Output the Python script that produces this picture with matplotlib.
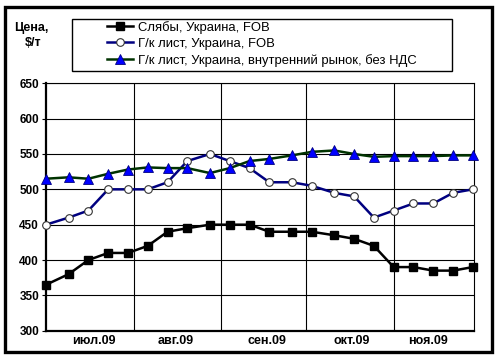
import matplotlib
matplotlib.use("Agg")
import matplotlib.pyplot as plt
import pandas as pd
from matplotlib.patches import Rectangle
from matplotlib.lines import Line2D

plt.rcParams["font.family"] = ["Liberation Sans", "DejaVu Sans"]

# -------------------------------------------------
# Data (weekly quotes, 2009)
# -------------------------------------------------
dates = pd.to_datetime([
    "2009-07-01", "2009-07-09", "2009-07-16", "2009-07-23", "2009-07-30",
    "2009-08-06", "2009-08-13", "2009-08-20", "2009-08-28", "2009-09-04",
    "2009-09-11", "2009-09-18", "2009-09-26", "2009-10-03", "2009-10-11",
    "2009-10-18", "2009-10-25", "2009-11-01", "2009-11-08", "2009-11-15",
    "2009-11-22", "2009-11-29",
])
slabs = [365, 380, 400, 410, 410, 420, 440, 445, 450, 450, 450,
         440, 440, 440, 435, 430, 420, 390, 390, 385, 385, 390]
hrc_fob = [450, 460, 470, 500, 500, 500, 510, 540, 550, 540, 530,
           510, 510, 505, 495, 490, 460, 470, 480, 480, 495, 500]
hrc_domestic = [515, 517, 515, 522, 528, 531, 530, 530, 523, 530, 540,
                543, 548, 553, 555, 550, 546, 547, 547, 547, 548, 548]

series_labels = [
    "Слябы, Украина, FOB",
    "Г/к лист, Украина, FOB",
    "Г/к лист, Украина, внутренний рынок, без НДС",
]
month_labels = ["июл.09", "авг.09", "сен.09", "окт.09", "ноя.09"]
label_dates = pd.to_datetime(["2009-07-18", "2009-08-16", "2009-09-17",
                              "2009-10-17", "2009-11-13"])
month_bounds = pd.to_datetime(["2009-08-01", "2009-09-01", "2009-10-01",
                               "2009-11-01"])
y_ticks = [300, 350, 400, 450, 500, 550, 600, 650]

# -------------------------------------------------
# Figure
# -------------------------------------------------
W, H = 500, 362
fig = plt.figure(figsize=(5.0, 3.62), dpi=100)
ax = fig.add_axes([46 / W, 1 - 330.7 / H, (474 - 46) / W, (330.7 - 83.3) / H])

ax.plot(dates, slabs, color="black", lw=1.8, marker="s", ms=6,
        mfc="black", mec="black", clip_on=False, zorder=3)
ax.plot(dates, hrc_fob, color="#000080", lw=1.8, marker="o", ms=5.5,
        mfc="white", mec="#333333", mew=0.8, clip_on=False, zorder=4)
ax.plot(dates, hrc_domestic, color="#003300", lw=1.8, marker="^", ms=7,
        mfc="#0000ff", mec="#000080", mew=0.6, clip_on=False, zorder=5)

ax.set_xlim(pd.Timestamp("2009-07-01"), pd.Timestamp("2009-11-29 10:00"))
ax.set_ylim(300, 650)
ax.set_yticks(y_ticks)
ax.set_yticklabels([str(v) for v in y_ticks], fontsize=8.5, fontweight="bold")

ax.set_xticks(month_bounds)
ax.set_xticklabels([])
ax.set_xticks(label_dates, minor=True)
ax.set_xticklabels(month_labels, minor=True, fontsize=9, fontweight="bold")
ax.tick_params(axis="x", which="both", length=0, pad=3)
ax.tick_params(axis="y", length=3, width=0.8, pad=2)

ax.grid(True, which="major", color="black", lw=0.8)
ax.set_axisbelow(True)
for side in ["top", "right"]:
    ax.spines[side].set_linewidth(0.8)
for side in ["left", "bottom"]:
    ax.spines[side].set_linewidth(1.6)

# -------------------------------------------------
# Legend box + legend
# -------------------------------------------------
fig.patches.append(Rectangle((71.7 / W, 1 - 70.7 / H), (451.7 - 71.7) / W,
                             (70.7 - 19) / H, transform=fig.transFigure,
                             fill=False, ec="black", lw=1.0))
handles = [
    Line2D([], [], color="black", lw=1.8, marker="s", ms=6),
    Line2D([], [], color="#000080", lw=1.8, marker="o", ms=5.5,
           mfc="white", mec="#333333", mew=0.8),
    Line2D([], [], color="#003300", lw=1.8, marker="^", ms=7,
           mfc="#0000ff", mec="#000080", mew=0.6),
]
fig.legend(handles, series_labels, loc="upper left",
           bbox_to_anchor=(107 / W, 1 - 21 / H), frameon=False,
           fontsize=9.4, handlelength=2.0, handletextpad=0.4,
           labelspacing=0.3, borderpad=0, borderaxespad=0)

fig.text(31 / W, 1 - 28 / H, "Цена,", ha="center", va="center",
         fontsize=9, fontweight="bold")
fig.text(33 / W, 1 - 43 / H, "$/т", ha="center", va="center",
         fontsize=9, fontweight="bold")

# outer frame
fig.patches.append(Rectangle((5 / W, 1 - 351.7 / H), (491.7 - 5) / W,
                             (351.7 - 6.7) / H, transform=fig.transFigure,
                             fill=False, ec="black", lw=2.4))

fig.savefig("out.png", dpi=100)
